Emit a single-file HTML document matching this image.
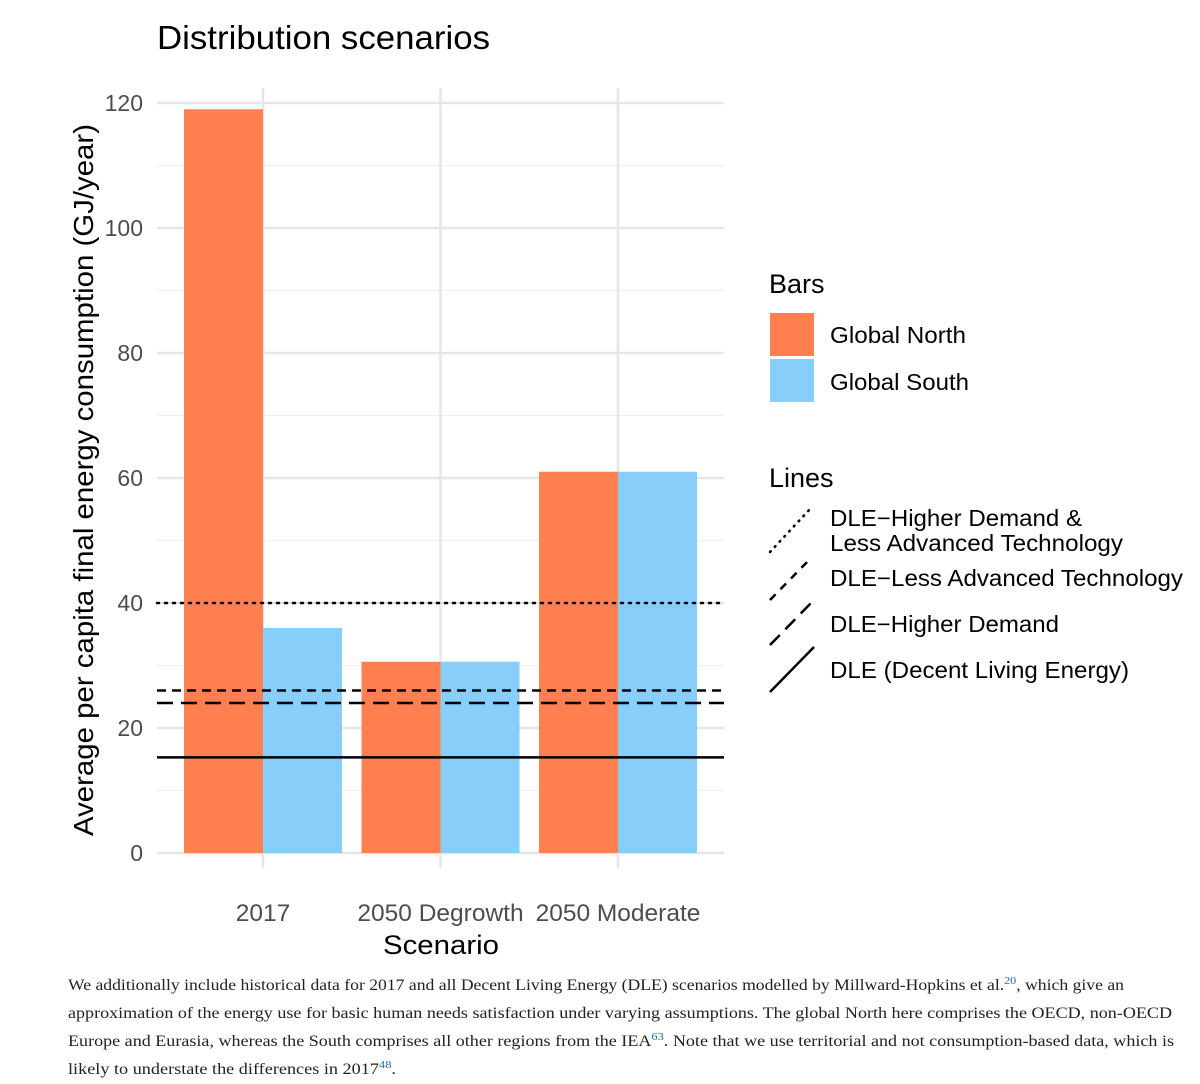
<!DOCTYPE html>
<html><head><meta charset="utf-8"><style>
html,body{margin:0;padding:0;background:#fff;width:1200px;height:1084px;overflow:hidden}
svg{display:block}
</style></head><body>
<svg id="chart" width="1200" height="1084" xmlns="http://www.w3.org/2000/svg" font-family="Liberation Sans, sans-serif">
<text x="157" y="49" font-size="33" textLength="333" lengthAdjust="spacingAndGlyphs" fill="#000">Distribution scenarios</text>
<g id="grid"></g>
<g id="bars"></g>
<g id="lines"></g>
<g id="axes"></g>
<text transform="translate(93,480) rotate(-90)" text-anchor="middle" font-size="28" textLength="712" lengthAdjust="spacingAndGlyphs" fill="#000">Average per capita final energy consumption (GJ/year)</text>
<text x="441" y="954" text-anchor="middle" font-size="27" textLength="116" lengthAdjust="spacingAndGlyphs" fill="#000">Scenario</text>
<g>
<text x="769" y="293" font-size="27">Bars</text>
<rect x="770" y="313" width="44" height="43" fill="#FF7F50"/>
<rect x="770" y="359" width="44" height="43" fill="#87CEFA"/>
<text x="830" y="343" font-size="23" textLength="136" lengthAdjust="spacingAndGlyphs">Global North</text>
<text x="830" y="390" font-size="23" textLength="139" lengthAdjust="spacingAndGlyphs">Global South</text>
<text x="769" y="487" font-size="27">Lines</text>
<line x1="770" y1="552" x2="811" y2="508" stroke="#000" stroke-width="2.5" stroke-dasharray="1,6" stroke-linecap="round"/>
<line x1="770" y1="600" x2="811" y2="558" stroke="#000" stroke-width="2.5" stroke-dasharray="8,7"/>
<line x1="770" y1="645" x2="814" y2="600" stroke="#000" stroke-width="2.5" stroke-dasharray="14,8"/>
<line x1="770" y1="692" x2="814" y2="647" stroke="#000" stroke-width="2.5"/>
<text x="830" y="526" font-size="23" textLength="252" lengthAdjust="spacingAndGlyphs">DLE−Higher Demand &amp;</text>
<text x="830" y="551" font-size="23" textLength="293" lengthAdjust="spacingAndGlyphs">Less Advanced Technology</text>
<text x="830" y="586" font-size="23" textLength="353" lengthAdjust="spacingAndGlyphs">DLE−Less Advanced Technology</text>
<text x="830" y="632" font-size="23" textLength="229" lengthAdjust="spacingAndGlyphs">DLE−Higher Demand</text>
<text x="830" y="678" font-size="23" textLength="299" lengthAdjust="spacingAndGlyphs">DLE (Decent Living Energy)</text>
</g>
<g font-family="Liberation Serif, serif" font-size="16" fill="#222">
<text x="68" y="990" textLength="1056" lengthAdjust="spacingAndGlyphs">We additionally include historical data for 2017 and all Decent Living Energy (DLE) scenarios modelled by Millward-Hopkins et al.<tspan fill="#1a6fb0" font-size="11" dy="-6">20</tspan><tspan dy="6">, which give an</tspan></text>
<text x="68" y="1018" textLength="1104" lengthAdjust="spacingAndGlyphs">approximation of the energy use for basic human needs satisfaction under varying assumptions. The global North here comprises the OECD, non-OECD</text>
<text x="68" y="1046" textLength="1106" lengthAdjust="spacingAndGlyphs">Europe and Eurasia, whereas the South comprises all other regions from the IEA<tspan fill="#1a6fb0" font-size="11" dy="-6">63</tspan><tspan dy="6">. Note that we use territorial and not consumption-based data, which is</tspan></text>
<text x="68" y="1074" textLength="328" lengthAdjust="spacingAndGlyphs">likely to understate the differences in 2017<tspan fill="#1a6fb0" font-size="11" dy="-6">48</tspan><tspan dy="6">.</tspan></text>
</g>
</svg>
<script>
const categories = ["2017", "2050 Degrowth", "2050 Moderate"];
const northValues = [119, 30.6, 61];
const southValues = [36, 30.6, 61];
const yTicks = [0, 20, 40, 60, 80, 100, 120];
const dleNames = ["dotted", "short-dash", "long-dash", "solid"];
const dleValues = [40, 26, 24, 15.3];
const dleDash = ["2,6", "9,6", "16,8", ""];

const NS = "http://www.w3.org/2000/svg";
const px0 = 157, px1 = 724;
const y = v => 853 - v * 6.25;
const xc = i => 263 + i * 177.5;
const bw = 79;
function mk(tag, attrs, parent) {
  const e = document.createElementNS(NS, tag);
  for (const k in attrs) e.setAttribute(k, attrs[k]);
  parent.appendChild(e); return e;
}
const grid = document.getElementById('grid');
const bars = document.getElementById('bars');
const lines = document.getElementById('lines');
const axes = document.getElementById('axes');
for (let v = 10; v < 120; v += 20) {
  const l = mk('line', {x1: px0, x2: px1, y1: y(v), y2: y(v), stroke: '#f0f0f0', 'stroke-width': 1.2}, grid);
  
  
}
yTicks.forEach(v => {
  const l = mk('line', {x1: px0, x2: px1, y1: y(v), y2: y(v), stroke: '#e6e6e6', 'stroke-width': 2.5}, grid);
  
  
  const t = mk('text', {x: 143, y: y(v) + 8, 'text-anchor': 'end', 'font-size': 23, fill: '#4d4d4d'}, axes);
  t.textContent = v;
  
  
});
categories.forEach((c, i) => {
  const l = mk('line', {x1: xc(i), x2: xc(i), y1: 88, y2: 868, stroke: '#e6e6e6', 'stroke-width': 2.5}, grid);
  
  
  const n = mk('rect', {x: xc(i) - bw, y: y(northValues[i]), width: bw, height: y(0) - y(northValues[i]), fill: '#FF7F50'}, bars);
  
  
  const s = mk('rect', {x: xc(i), y: y(southValues[i]), width: bw, height: y(0) - y(southValues[i]), fill: '#87CEFA'}, bars);
  
  
  const t = mk('text', {x: xc(i), y: 921, 'text-anchor': 'middle', 'font-size': 24.5, fill: '#4d4d4d'}, axes);
  t.textContent = c;
  
  
});
dleValues.forEach((v, i) => {
  const a = {x1: px0, x2: px1, y1: y(v), y2: y(v), stroke: '#000', 'stroke-width': 2.5};
  if (dleDash[i]) a['stroke-dasharray'] = dleDash[i];
  if (i === 0) a['stroke-linecap'] = 'round';
  const l = mk('line', a, lines);
  
  
});
</script>
</body></html>
